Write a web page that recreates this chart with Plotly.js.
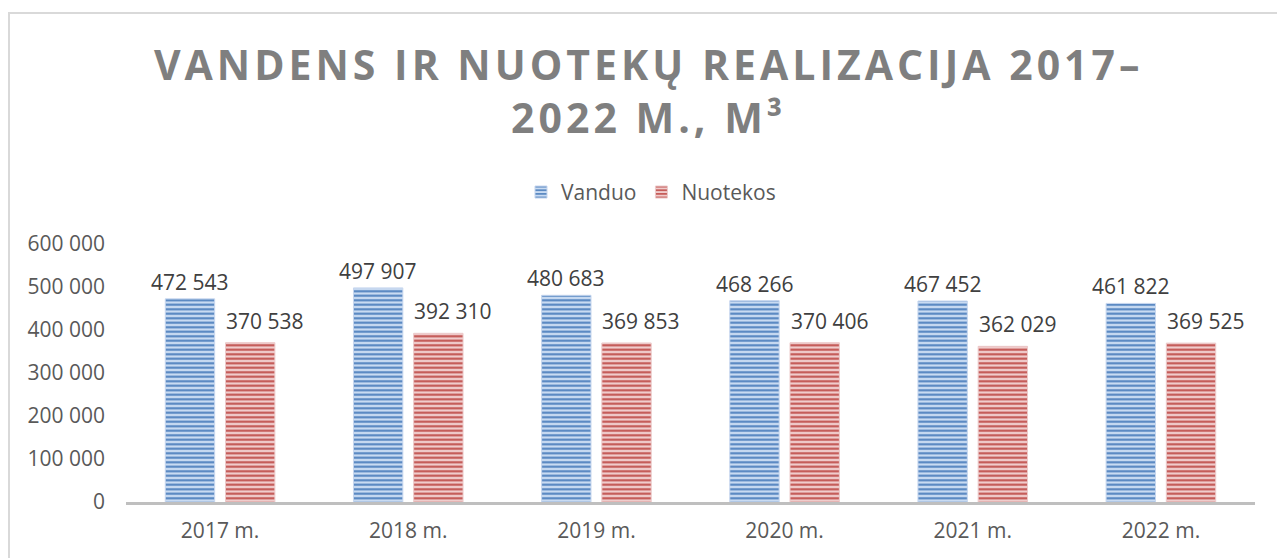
<!DOCTYPE html>
<html>
<head>
<meta charset="utf-8">
<script src="https://cdn.plot.ly/plotly-3.0.1.min.js"></script>
<style>
html, body { margin:0; padding:0; background:#fff; }
#frame { position:absolute; left:8px; top:12px; width:1300px; height:600px; border-left:2px solid #d9d9d9; border-top:2px solid #d9d9d9; box-sizing:border-box; }
#chart { position:absolute; left:0; top:0; width:1277px; height:558px; }
.gtitle { letter-spacing: 4px; }
</style>
</head>
<body>
<div id="frame"></div>
<div id="chart"></div>
<script>
const categories = ["2017 m.", "2018 m.", "2019 m.", "2020 m.", "2021 m.", "2022 m."];
const vanduo = [472543, 497907, 480683, 468266, 467452, 461822];
const nuotekos = [370538, 392310, 369853, 370406, 362029, 369525];
const tickVals = [0, 100000, 200000, 300000, 400000, 500000, 600000];
const tickText = ["0", "100 000", "200 000", "300 000", "400 000", "500 000", "600 000"];

function fmt(v) { return String(v).replace(/\B(?=(\d{3})+(?!\d))/g, " "); }

const font = "Open Sans, Noto Sans, sans-serif";

const traces = [
  {
    type: "bar", name: "Vanduo", x: categories, y: vanduo,
    marker: { color: "#b9cfec", line: { color: "#c6d6ee", width: 1 },
      pattern: { shape: "-", fgcolor: "#4f81bd", bgcolor: "#c9dbf2", size: 4.5, solidity: 0.45 } }
  },
  {
    type: "bar", name: "Nuotekos", x: categories, y: nuotekos,
    marker: { color: "#e6b0b0", line: { color: "#eccaca", width: 1 },
      pattern: { shape: "-", fgcolor: "#c0504d", bgcolor: "#f0cccc", size: 4.5, solidity: 0.45 } }
  }
];

const labelFont = { family: font, size: 21, color: "#404040" };
const annotations = [];
categories.forEach((c, i) => {
  annotations.push({ x: c, y: vanduo[i], text: fmt(vanduo[i]), showarrow: false,
    xanchor: "center", yanchor: "bottom", xshift: -30, yshift: 1, font: labelFont });
  annotations.push({ x: c, y: nuotekos[i], text: fmt(nuotekos[i]), showarrow: false,
    xanchor: "center", yanchor: "bottom", xshift: 45, yshift: 6, font: labelFont });
});

const layout = {
  width: 1277, height: 558,
  margin: { l: 126, r: 22, t: 244, b: 56, autoexpand: false },
  paper_bgcolor: "rgba(0,0,0,0)", plot_bgcolor: "rgba(0,0,0,0)",
  font: { family: font, color: "#595959", size: 21 },
  title: {
    text: "VANDENS IR NUOTEKŲ REALIZACIJA 2017–<br>2022 M., M³",
    font: { family: font, size: 41, color: "#7f7f7f", weight: 700 },
    x: 0.508, xref: "container", xanchor: "center", y: 0.857, yanchor: "top", yref: "container"
  },
  showlegend: true,
  legend: {
    orientation: "h", x: 0.465, xanchor: "center", y: 1.2, yanchor: "middle",
    font: { family: font, size: 21, color: "#595959" }, traceorder: "normal"
  },
  annotations: annotations,
  barmode: "group", bargap: 0.36, bargroupgap: 0.18,
  xaxis: {
    type: "category", showgrid: false, showline: true, linecolor: "#bfbfbf", linewidth: 3,
    ticks: "", tickangle: 0, tickfont: { family: font, size: 21, color: "#595959" }, ticklabelstandoff: 8
  },
  yaxis: {
    range: [0, 600000], tickvals: tickVals, ticktext: tickText, showgrid: false,
    zeroline: false, showline: false, ticks: "",
    tickfont: { family: font, size: 21, color: "#595959" }, ticklabelstandoff: 20
  }
};

Plotly.newPlot("chart", traces, layout, { displayModeBar: false, staticPlot: true });
</script>
</body>
</html>
